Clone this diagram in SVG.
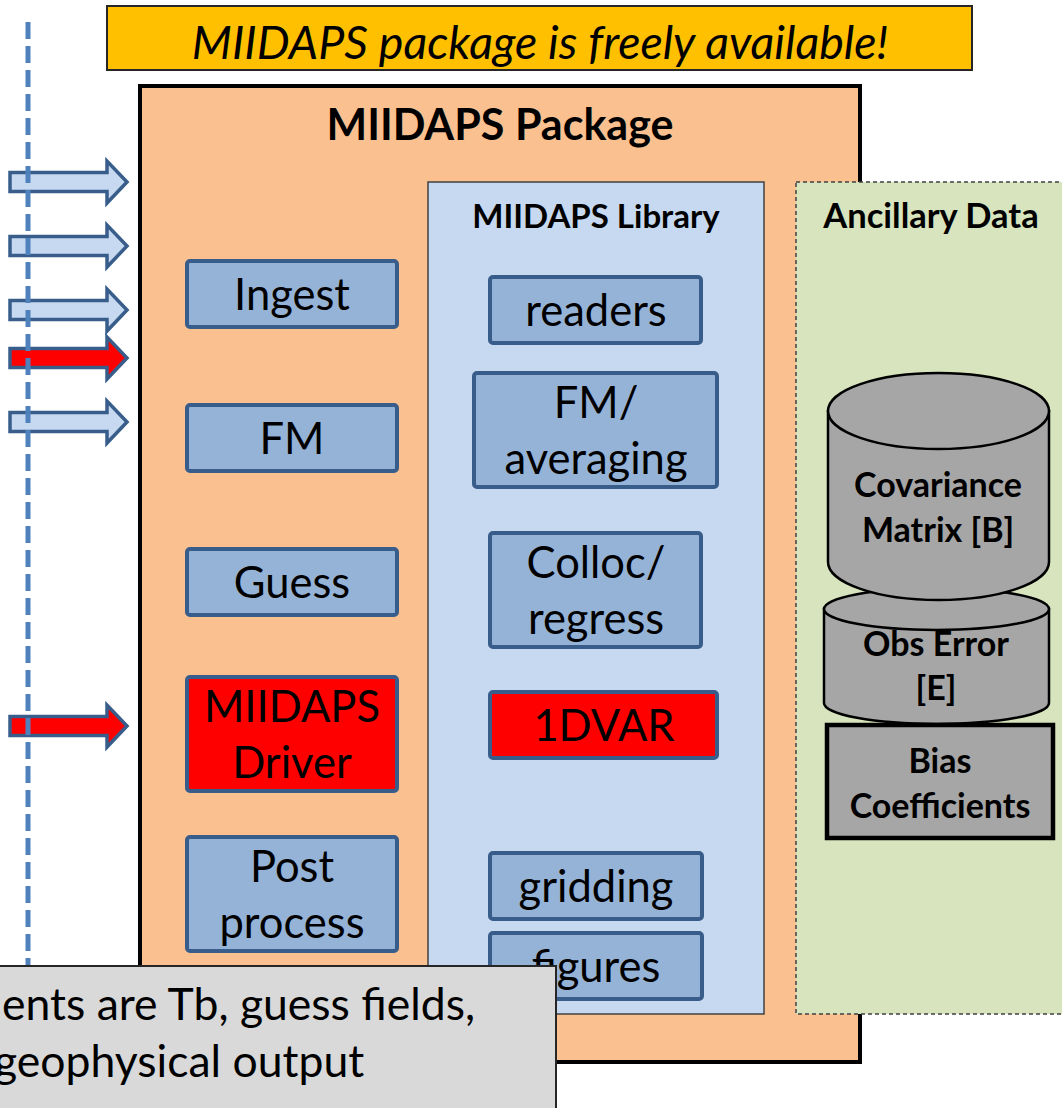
<svg xmlns="http://www.w3.org/2000/svg" width="1062" height="1108" viewBox="0 0 1062 1108">
<style>
text{font-family:Lato,"Liberation Sans",sans-serif;fill:#000;text-anchor:middle}
.reg{font-size:43.5px}
.bt{font-size:43px;font-weight:bold}
.st{font-size:33px;font-weight:bold}
.cy{font-size:34px;font-weight:bold}
.box{fill:#95B3D7;stroke:#385D8A;stroke-width:4}
.red{fill:#FF0000;stroke:#385D8A;stroke-width:4}
.arr{fill:#C6D9F1;stroke:#385D8A;stroke-width:3.5;stroke-linejoin:miter}
.arrr{fill:#FF0000;stroke:#385D8A;stroke-width:3.5}
.db{fill:#A6A6A6;stroke:#000;stroke-width:2.5}
</style>
<rect width="1062" height="1108" fill="#fff"/>
<g id="banner">
<rect x="107" y="6" width="865" height="64" fill="#FFC000" stroke="#262626" stroke-width="2"/>
<text x="540" y="59" style="font-size:46.5px;font-style:italic">MIIDAPS package is freely available!</text>
</g>
<g id="package">
<rect x="140" y="86" width="720" height="976" fill="#FAC090" stroke="#000" stroke-width="4"/>
<text class="bt" x="500" y="140">MIIDAPS Package</text>
</g>
<g id="library">
<rect x="428" y="182" width="336" height="832" fill="#C6D9F1" stroke="#404040" stroke-width="1.5"/>
<text class="st" x="596" y="228">MIIDAPS Library</text>
</g>
<g id="ancillary">
<rect x="796" y="182" width="280" height="832" fill="#D7E4BD" stroke="#404040" stroke-width="1.5" stroke-dasharray="4 3"/>
<text class="st" x="931" y="228" style="font-size:34.5px">Ancillary Data</text>
</g>
<g id="ingest"><rect class="box" x="187" y="261" width="210" height="66" rx="3"/><text class="reg" x="292" y="310">Ingest</text></g>
<g id="fm"><rect class="box" x="187" y="405" width="210" height="66" rx="3"/><text class="reg" x="292" y="454">FM</text></g>
<g id="guess"><rect class="box" x="187" y="549" width="210" height="66" rx="3"/><text class="reg" x="292" y="598">Guess</text></g>
<g id="driver"><rect class="red" x="187" y="677" width="210" height="114" rx="3"/><text class="reg" x="292" y="722">MIIDAPS</text><text class="reg" x="292" y="778">Driver</text></g>
<g id="post"><rect class="box" x="187" y="837" width="210" height="114" rx="3"/><text class="reg" x="292" y="882">Post</text><text class="reg" x="292" y="938">process</text></g>
<g id="readers"><rect class="box" x="490" y="277" width="211" height="66" rx="3"/><text class="reg" x="596" y="326">readers</text></g>
<g id="fmavg"><rect class="box" x="474" y="373" width="243" height="114" rx="3"/><text class="reg" x="596" y="418">FM/</text><text class="reg" x="596" y="474">averaging</text></g>
<g id="colloc"><rect class="box" x="490" y="533" width="211" height="114" rx="3"/><text class="reg" x="596" y="578">Colloc/</text><text class="reg" x="596" y="634">regress</text></g>
<g id="onedvar"><rect class="red" x="490" y="692" width="227" height="66" rx="3"/><text class="reg" x="604" y="741">1DVAR</text></g>
<g id="gridding"><rect class="box" x="490" y="853" width="212" height="66" rx="3"/><text class="reg" x="596" y="902">gridding</text></g>
<g id="figures"><rect class="box" x="490" y="933" width="212" height="66" rx="3"/><text class="reg" x="596" y="982">figures</text></g>
<g id="obserror">
<path class="db" d="M824,609 V703 A112.5,21 0 0 0 1049,703 V609 Z"/>
<ellipse class="db" cx="936.5" cy="609" rx="112.5" ry="21"/>
<text class="cy" x="936" y="656">Obs Error</text>
<text class="cy" x="936" y="700">[E]</text>
</g>
<g id="covariance">
<path class="db" d="M828,411 V562 A110.5,38 0 0 0 1049,562 V411 Z"/>
<ellipse class="db" cx="938.5" cy="411" rx="110.5" ry="38"/>
<text class="cy" x="938" y="497">Covariance</text>
<text class="cy" x="938" y="542">Matrix [B]</text>
</g>
<g id="bias">
<rect x="827" y="725" width="226" height="113" fill="#A6A6A6" stroke="#000" stroke-width="4.5"/>
<text class="cy" x="940" y="773">Bias</text>
<text class="cy" x="940" y="818">Coefficients</text>
</g>
<g id="connectors">
<path class="arr" d="M10,172.5 H107 V161 L127,182 L107,203 V191.5 H10 Z"/>
<path class="arr" d="M10,236.5 H107 V225 L127,246 L107,267 V255.5 H10 Z"/>
<path class="arr" d="M10,300.5 H107 V289 L127,310 L107,331 V319.5 H10 Z"/>
<path class="arrr" d="M10,348.5 H107 V337 L127,358 L107,379 V367.5 H10 Z"/>
<path class="arr" d="M10,412.5 H107 V401 L127,422 L107,443 V431.5 H10 Z"/>
<path class="arrr" d="M10,716.5 H107 V705 L127,726 L107,747 V735.5 H10 Z"/>
<line x1="28" y1="22" x2="28" y2="966" stroke="#4F81BD" stroke-width="5" stroke-dasharray="17 7"/>
</g>
<g id="note">
<rect x="-10" y="966" width="566" height="160" fill="#D9D9D9" stroke="#262626" stroke-width="2"/>
<text x="2" y="1020" style="text-anchor:start;font-size:44.5px">ents are Tb, guess fields,</text>
<text x="-6" y="1077" style="text-anchor:start;font-size:44.5px">geophysical output</text>
</g>
</svg>
